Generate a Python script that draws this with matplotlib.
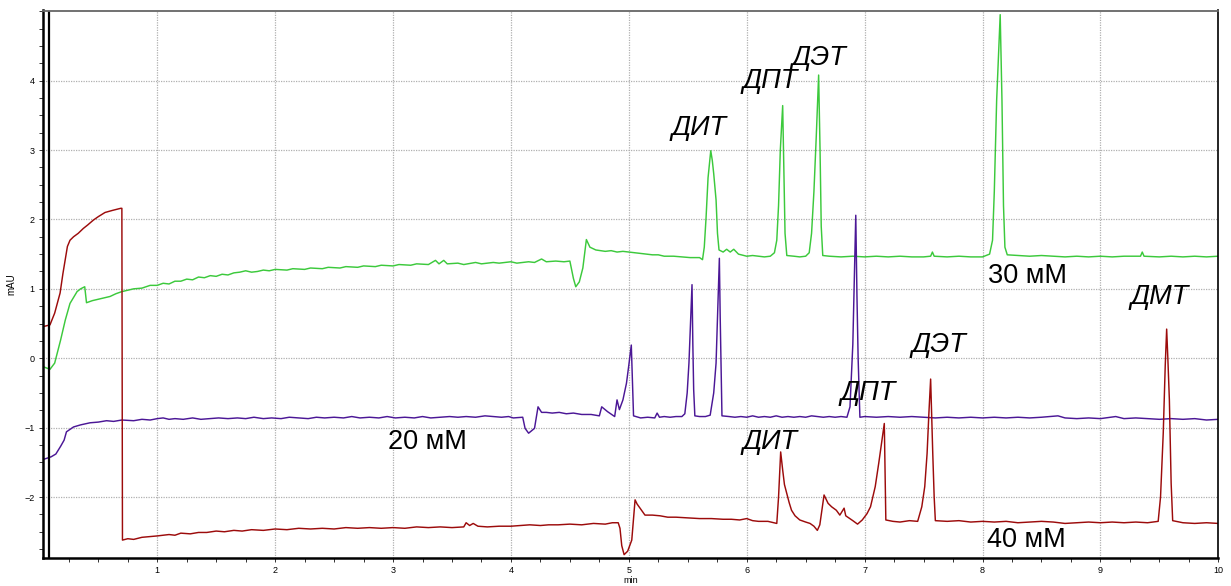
import matplotlib
matplotlib.use("Agg")
import matplotlib.pyplot as plt
import numpy as np
from matplotlib.ticker import MultipleLocator, FixedLocator

plt.rcParams['font.family'] = ['Liberation Sans', 'DejaVu Sans']

# chromatogram traces, (time in min, signal in mAU)
trace_30mM = [
    (0.03, -0.12), (0.09, -0.16), (0.13, -0.07), (0.18, 0.26), (0.22, 0.55),
    (0.26, 0.79), (0.32, 0.96), (0.35, 1.00), (0.385, 1.03), (0.40, 0.80),
    (0.45, 0.83), (0.50, 0.85), (0.55, 0.87), (0.60, 0.89), (0.65, 0.93),
    (0.70, 0.96), (0.75, 0.98), (0.80, 1.00), (0.87, 1.01), (0.94, 1.05),
    (1.00, 1.05), (1.05, 1.08), (1.10, 1.07), (1.15, 1.11), (1.20, 1.11),
    (1.25, 1.14), (1.30, 1.13), (1.35, 1.17), (1.40, 1.16), (1.45, 1.19),
    (1.50, 1.18), (1.55, 1.21), (1.60, 1.20), (1.65, 1.23), (1.70, 1.24),
    (1.75, 1.26), (1.80, 1.24), (1.85, 1.25), (1.90, 1.27), (1.95, 1.26),
    (2.00, 1.28), (2.10, 1.27), (2.15, 1.29), (2.25, 1.28), (2.30, 1.30),
    (2.40, 1.29), (2.45, 1.31), (2.55, 1.30), (2.60, 1.32), (2.70, 1.31),
    (2.75, 1.33), (2.85, 1.32), (2.90, 1.34), (3.00, 1.33), (3.05, 1.35),
    (3.15, 1.34), (3.20, 1.36), (3.30, 1.35), (3.36, 1.41), (3.39, 1.36),
    (3.43, 1.41), (3.46, 1.36), (3.55, 1.37), (3.60, 1.35), (3.70, 1.38),
    (3.75, 1.36), (3.85, 1.38), (3.90, 1.37), (4.00, 1.39), (4.05, 1.37),
    (4.15, 1.39), (4.20, 1.38), (4.26, 1.43), (4.30, 1.39), (4.38, 1.40),
    (4.45, 1.39), (4.50, 1.40), (4.53, 1.15), (4.55, 1.03), (4.58, 1.10),
    (4.61, 1.30), (4.64, 1.71), (4.67, 1.60), (4.72, 1.56), (4.80, 1.54),
    (4.85, 1.55), (4.90, 1.53), (4.95, 1.54), (5.00, 1.53), (5.05, 1.52),
    (5.10, 1.51), (5.15, 1.50), (5.20, 1.49), (5.25, 1.49), (5.30, 1.47),
    (5.38, 1.47), (5.45, 1.46), (5.52, 1.45), (5.60, 1.45), (5.625, 1.42),
    (5.640, 1.60), (5.655, 2.02), (5.672, 2.60), (5.695, 2.99), (5.708, 2.85),
    (5.72, 2.66), (5.74, 2.28), (5.752, 1.80), (5.765, 1.56), (5.80, 1.53),
    (5.83, 1.57), (5.86, 1.53), (5.89, 1.57), (5.93, 1.50), (6.00, 1.47),
    (6.05, 1.48), (6.10, 1.47), (6.15, 1.46), (6.20, 1.47), (6.235, 1.52),
    (6.255, 1.70), (6.27, 2.20), (6.285, 3.00), (6.305, 3.64), (6.315, 2.70),
    (6.325, 1.80), (6.34, 1.48), (6.40, 1.47), (6.45, 1.46), (6.50, 1.47),
    (6.53, 1.52), (6.55, 1.80), (6.57, 2.40), (6.59, 3.20), (6.61, 4.08),
    (6.622, 3.00), (6.632, 1.90), (6.645, 1.48), (6.70, 1.47), (6.80, 1.46),
    (6.90, 1.47), (7.00, 1.46), (7.10, 1.47), (7.20, 1.46), (7.30, 1.47),
    (7.40, 1.46), (7.50, 1.46), (7.56, 1.47), (7.575, 1.53), (7.59, 1.47),
    (7.70, 1.46), (7.80, 1.47), (7.90, 1.46), (8.00, 1.46), (8.06, 1.50),
    (8.085, 1.70), (8.10, 2.40), (8.12, 3.72), (8.15, 4.95), (8.165, 3.72),
    (8.178, 2.20), (8.19, 1.60), (8.21, 1.49), (8.30, 1.48), (8.40, 1.47),
    (8.50, 1.48), (8.60, 1.47), (8.70, 1.46), (8.80, 1.47), (8.90, 1.46),
    (9.00, 1.47), (9.10, 1.46), (9.20, 1.47), (9.34, 1.47), (9.355, 1.53),
    (9.37, 1.47), (9.50, 1.46), (9.60, 1.47), (9.70, 1.46), (9.80, 1.47),
    (9.90, 1.46), (10.00, 1.47),
]

trace_20mM = [
    (0.03, -1.46), (0.10, -1.42), (0.14, -1.38), (0.18, -1.27), (0.21, -1.18),
    (0.23, -1.06), (0.29, -0.99), (0.35, -0.96), (0.43, -0.93), (0.50, -0.92),
    (0.57, -0.90), (0.63, -0.91), (0.70, -0.89), (0.80, -0.90), (0.87, -0.88),
    (0.94, -0.89), (1.00, -0.87), (1.05, -0.86), (1.10, -0.88), (1.15, -0.87),
    (1.22, -0.88), (1.30, -0.86), (1.37, -0.88), (1.45, -0.87), (1.52, -0.86),
    (1.60, -0.87), (1.68, -0.86), (1.75, -0.87), (1.82, -0.85), (1.90, -0.87),
    (1.97, -0.86), (2.05, -0.87), (2.12, -0.85), (2.20, -0.86), (2.28, -0.87),
    (2.35, -0.85), (2.42, -0.86), (2.50, -0.85), (2.58, -0.86), (2.65, -0.84),
    (2.72, -0.86), (2.80, -0.85), (2.88, -0.86), (2.95, -0.84), (3.02, -0.86),
    (3.10, -0.85), (3.18, -0.86), (3.25, -0.84), (3.32, -0.86), (3.40, -0.85),
    (3.48, -0.84), (3.55, -0.85), (3.62, -0.84), (3.70, -0.85), (3.78, -0.83),
    (3.85, -0.84), (3.92, -0.85), (3.98, -0.84), (4.02, -0.86), (4.10, -0.85),
    (4.12, -1.01), (4.15, -1.08), (4.20, -1.01), (4.23, -0.70), (4.26, -0.78),
    (4.30, -0.78), (4.35, -0.79), (4.41, -0.78), (4.47, -0.80), (4.53, -0.79),
    (4.60, -0.81), (4.68, -0.81), (4.75, -0.83), (4.77, -0.70), (4.82, -0.77),
    (4.88, -0.84), (4.90, -0.60), (4.92, -0.74), (4.95, -0.60), (4.98, -0.36),
    (5.00, -0.10), (5.021, 0.19), (5.03, -0.30), (5.04, -0.83), (5.10, -0.86),
    (5.16, -0.85), (5.22, -0.86), (5.24, -0.79), (5.26, -0.85), (5.30, -0.84),
    (5.35, -0.85), (5.40, -0.84), (5.45, -0.84), (5.475, -0.80), (5.495, -0.50),
    (5.51, -0.07), (5.536, 1.06), (5.543, 0.20), (5.55, -0.45), (5.56, -0.83),
    (5.60, -0.84), (5.65, -0.84), (5.69, -0.82), (5.72, -0.50), (5.74, -0.07),
    (5.768, 1.44), (5.775, 0.60), (5.783, -0.20), (5.79, -0.83), (5.85, -0.84),
    (5.90, -0.85), (5.95, -0.84), (6.00, -0.85), (6.05, -0.83), (6.10, -0.85),
    (6.15, -0.84), (6.20, -0.85), (6.25, -0.83), (6.30, -0.85), (6.35, -0.84),
    (6.40, -0.85), (6.45, -0.84), (6.50, -0.85), (6.55, -0.83), (6.60, -0.84),
    (6.65, -0.85), (6.70, -0.84), (6.75, -0.85), (6.80, -0.84), (6.85, -0.85),
    (6.876, -0.70), (6.90, 0.20), (6.925, 2.06), (6.935, 0.90), (6.945, 0.00),
    (6.96, -0.85), (7.00, -0.84), (7.10, -0.85), (7.20, -0.84), (7.30, -0.85),
    (7.40, -0.84), (7.50, -0.85), (7.60, -0.86), (7.70, -0.85), (7.80, -0.86),
    (7.90, -0.85), (8.00, -0.86), (8.10, -0.85), (8.20, -0.86), (8.30, -0.85),
    (8.40, -0.86), (8.50, -0.85), (8.64, -0.83), (8.70, -0.86), (8.80, -0.87),
    (8.90, -0.86), (9.00, -0.87), (9.13, -0.84), (9.20, -0.87), (9.30, -0.86),
    (9.40, -0.87), (9.50, -0.88), (9.60, -0.87), (9.70, -0.88), (9.80, -0.87),
    (9.90, -0.89), (10.00, -0.88),
]

trace_40mM = [
    (0.03, 0.455), (0.09, 0.48), (0.13, 0.65), (0.176, 0.94), (0.20, 1.22),
    (0.238, 1.61), (0.26, 1.70), (0.29, 1.75), (0.33, 1.80), (0.373, 1.87),
    (0.41, 1.92), (0.458, 1.99), (0.50, 2.04), (0.557, 2.10), (0.62, 2.13),
    (0.69, 2.16), (0.70, 2.16), (0.705, -2.62), (0.75, -2.60), (0.80, -2.61),
    (0.87, -2.58), (0.94, -2.57), (1.00, -2.56), (1.05, -2.55), (1.10, -2.54),
    (1.15, -2.55), (1.20, -2.52), (1.28, -2.53), (1.35, -2.51), (1.42, -2.51),
    (1.50, -2.49), (1.57, -2.50), (1.65, -2.48), (1.72, -2.49), (1.80, -2.47),
    (1.90, -2.48), (2.00, -2.46), (2.10, -2.47), (2.20, -2.45), (2.30, -2.46),
    (2.40, -2.45), (2.50, -2.46), (2.60, -2.44), (2.70, -2.45), (2.80, -2.44),
    (2.90, -2.45), (3.00, -2.44), (3.10, -2.45), (3.20, -2.43), (3.30, -2.44),
    (3.40, -2.43), (3.50, -2.44), (3.60, -2.43), (3.62, -2.37), (3.65, -2.41),
    (3.68, -2.38), (3.72, -2.42), (3.80, -2.43), (3.90, -2.42), (4.00, -2.42),
    (4.08, -2.41), (4.16, -2.40), (4.25, -2.41), (4.32, -2.40), (4.40, -2.40),
    (4.50, -2.39), (4.60, -2.40), (4.70, -2.38), (4.80, -2.39), (4.86, -2.37),
    (4.91, -2.37), (4.925, -2.45), (4.94, -2.70), (4.96, -2.83), (4.99, -2.78),
    (5.025, -2.62), (5.04, -2.30), (5.053, -2.04), (5.07, -2.10), (5.095, -2.16),
    (5.137, -2.26), (5.20, -2.26), (5.265, -2.27), (5.33, -2.29), (5.40, -2.29),
    (5.50, -2.30), (5.60, -2.31), (5.70, -2.31), (5.80, -2.32), (5.87, -2.32),
    (5.94, -2.33), (6.00, -2.31), (6.05, -2.34), (6.10, -2.35), (6.18, -2.35),
    (6.255, -2.38), (6.27, -2.00), (6.288, -1.35), (6.305, -1.61), (6.32, -1.82),
    (6.34, -1.95), (6.36, -2.08), (6.38, -2.19), (6.41, -2.27), (6.45, -2.33),
    (6.50, -2.36), (6.537, -2.38), (6.57, -2.42), (6.599, -2.48), (6.62, -2.40),
    (6.656, -1.97), (6.69, -2.09), (6.72, -2.14), (6.76, -2.19), (6.79, -2.26),
    (6.826, -2.16), (6.84, -2.27), (6.90, -2.34), (6.94, -2.39), (6.98, -2.33),
    (7.02, -2.24), (7.05, -2.14), (7.09, -1.85), (7.12, -1.51), (7.15, -1.15),
    (7.167, -0.94), (7.175, -1.80), (7.18, -2.33), (7.24, -2.35), (7.30, -2.36),
    (7.38, -2.34), (7.45, -2.35), (7.485, -2.14), (7.51, -1.85), (7.53, -1.37),
    (7.545, -0.80), (7.56, -0.30), (7.57, -0.90), (7.578, -1.37), (7.59, -2.00),
    (7.60, -2.34), (7.70, -2.35), (7.80, -2.34), (7.90, -2.36), (8.00, -2.35),
    (8.10, -2.36), (8.20, -2.35), (8.30, -2.37), (8.40, -2.36), (8.50, -2.35),
    (8.60, -2.36), (8.70, -2.38), (8.80, -2.37), (8.90, -2.36), (9.00, -2.37),
    (9.10, -2.36), (9.20, -2.37), (9.30, -2.36), (9.40, -2.37), (9.49, -2.35),
    (9.51, -2.00), (9.533, -1.08), (9.55, -0.10), (9.562, 0.42), (9.572, 0.00),
    (9.585, -0.60), (9.60, -1.80), (9.613, -2.34), (9.70, -2.37), (9.80, -2.38),
    (9.90, -2.37), (10.00, -2.38),
]

# peak names and series tags
peak_labels_30 = ["ДИТ", "ДПТ", "ДЭТ"]
peak_labels_40 = ["ДИТ", "ДПТ", "ДЭТ", "ДМТ"]
series_names = ["30 мМ", "20 мМ", "40 мМ"]

colors = {"30": "#3cc93c", "20": "#4b1796", "40": "#9c0b0b"}

fig = plt.figure(figsize=(12.31, 5.86), dpi=100)
ax = fig.add_axes([43 / 1231, 1 - 558 / 586, 1175.3 / 1231, 547.5 / 586])

for trace, key in [(trace_30mM, "30"), (trace_20mM, "20"), (trace_40mM, "40")]:
    t, v = np.array(trace).T
    ax.plot(t, v, color=colors[key], lw=1.05, solid_joinstyle='round')

ax.axvline(0.082, color='black', lw=1.6)

ax.set_xlim(0.031, 10.0)
ax.set_ylim(-2.878, 5.01)

ax.xaxis.set_major_locator(MultipleLocator(1))
ax.xaxis.set_minor_locator(MultipleLocator(0.25))
ax.yaxis.set_major_locator(FixedLocator([-2, -1, 0, 1, 2, 3, 4]))
ax.yaxis.set_minor_locator(MultipleLocator(0.25))
ax.tick_params(which='both', direction='out', length=3, width=0.7,
               labelsize=6.5, color='#333333', pad=3)
ax.grid(True, which='major', color='#b0b0b0', linestyle=(0, (1, 1)), lw=0.9)

for side in ['left', 'bottom']:
    ax.spines[side].set_linewidth(1.8)
    ax.spines[side].set_color('black')
ax.spines['right'].set_linewidth(1.2)
ax.spines['right'].set_color('black')
ax.spines['top'].set_linewidth(1.3)
ax.spines['top'].set_color('#666666')

ax.set_ylabel("mAU", fontsize=7, labelpad=6)
ax.set_xlabel("min", fontsize=6.5, labelpad=0.5)

# peak names
label_pos_30 = [(5.60, 3.32), (6.20, 3.99), (6.61, 4.33)]
label_pos_40 = [(6.20, -1.20), (7.03, -0.50), (7.63, 0.19), (9.50, 0.88)]
for name, (x, y) in zip(peak_labels_30, label_pos_30):
    ax.text(x, y, name, fontsize=19.5, style='italic', ha='center', va='center')
for name, (x, y) in zip(peak_labels_40, label_pos_40):
    ax.text(x, y, name, fontsize=19.5, style='italic', ha='center', va='center')

series_pos = [(8.38, 1.19), (3.29, -1.21), (8.37, -2.62)]
for name, (x, y) in zip(series_names, series_pos):
    ax.text(x, y, name, fontsize=19.5, ha='center', va='center')

fig.savefig("out.png", dpi=100)
